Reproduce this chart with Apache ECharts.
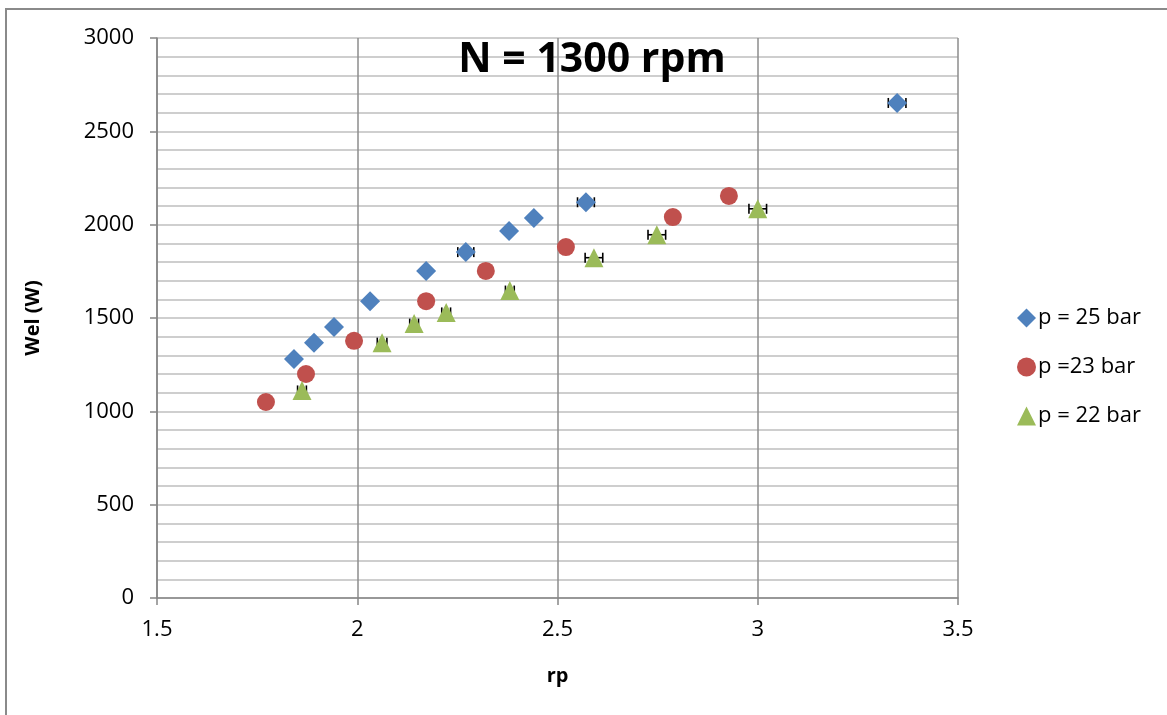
<!DOCTYPE html>
<html>
<head>
<meta charset="utf-8">
<script src="https://cdn.jsdelivr.net/npm/echarts@6/dist/echarts.min.js"></script>
<style>
  html, body { margin: 0; padding: 0; background: #ffffff; }
  #chart { width: 1167px; height: 715px; }
</style>
</head>
<body>
<div id="chart"></div>
<script>
// Electrical power vs pressure ratio at N = 1300 rpm
const seriesNames = ['p = 25 bar', 'p =23 bar', 'p = 22 bar'];

// p = 25 bar
const rp25  = [1.842, 1.892, 1.942, 2.032, 2.172, 2.271, 2.379, 2.441, 2.571, 3.348];
const wel25 = [1280, 1368, 1452, 1590, 1752, 1853, 1966, 2036, 2120, 2652];
const err25 = [0, 0, 0, 0, 0, 0.02, 0, 0, 0.021, 0.022];

// p = 23 bar
const rp23  = [1.772, 1.872, 1.992, 2.172, 2.321, 2.521, 2.788, 2.928];
const wel23 = [1050, 1200, 1378, 1590, 1752, 1880, 2041, 2154];
const err23 = [0, 0, 0, 0, 0, 0, 0, 0];

// p = 22 bar
const rp22  = [1.862, 2.062, 2.142, 2.222, 2.381, 2.591, 2.748, 3.0];
const wel22 = [1112, 1368, 1470, 1530, 1647, 1823, 1946, 2085];
const err22 = [0.011, 0.012, 0.011, 0.011, 0.011, 0.022, 0.022, 0.022];

const xTicks = { min: 1.5, max: 3.5, interval: 0.5 };
const yTicks = { min: 0, max: 3000, interval: 500 };

const colors = ['#4F81BD', '#C0504D', '#9BBB59'];
const symbols = ['diamond', 'circle', 'triangle'];
const symbolSizes = [20, 18, 19];

const groups = [
  { x: rp25, y: wel25, e: err25 },
  { x: rp23, y: wel23, e: err23 },
  { x: rp22, y: wel22, e: err22 }
];

const font = '"Open Sans", "Noto Sans", sans-serif';

function errorBarItem(params, api) {
  const x = api.value(0), y = api.value(1), e = api.value(2);
  const left = api.coord([x - e, y]);
  const right = api.coord([x + e, y]);
  const cap = 5;
  const style = { stroke: '#000000', lineWidth: 1.6 };
  return {
    type: 'group',
    children: [
      { type: 'line', shape: { x1: left[0], y1: left[1], x2: right[0], y2: right[1] }, style: style },
      { type: 'line', shape: { x1: left[0], y1: left[1] - cap, x2: left[0], y2: left[1] + cap }, style: style },
      { type: 'line', shape: { x1: right[0], y1: right[1] - cap, x2: right[0], y2: right[1] + cap }, style: style }
    ]
  };
}

const series = [];
groups.forEach(function (g, i) {
  const bars = [];
  g.x.forEach(function (xv, k) {
    if (g.e[k] > 0) bars.push([xv, g.y[k], g.e[k]]);
  });
  series.push({
    type: 'custom',
    name: seriesNames[i] + ' error',
    renderItem: errorBarItem,
    data: bars,
    z: 2,
    silent: true
  });
});
groups.forEach(function (g, i) {
  series.push({
    type: 'scatter',
    name: seriesNames[i],
    symbol: symbols[i],
    symbolSize: symbolSizes[i],
    itemStyle: { color: colors[i], opacity: 1 },
    data: g.x.map(function (xv, k) { return [xv, g.y[k]]; }),
    z: 3
  });
});

const chart = echarts.init(document.getElementById('chart'), null, { renderer: 'canvas' });
chart.setOption({
  animation: false,
  backgroundColor: '#ffffff',
  color: colors,
  title: {
    text: 'N = 1300 rpm',
    left: 587,
    textAlign: 'center',
    top: 35,
    textStyle: { fontFamily: font, fontWeight: 'bold', fontSize: 41, color: '#000000' }
  },
  graphic: [{
    type: 'rect',
    shape: { x: 6, y: 9, width: 1300, height: 900 },
    style: { fill: 'none', stroke: '#8a8a8a', lineWidth: 2 },
    z: -10,
    silent: true
  }],
  legend: {
    orient: 'vertical',
    left: 1012,
    top: 302,
    itemWidth: 19,
    itemHeight: 19,
    itemGap: 27,
    data: seriesNames.map(function (n, i) { return { name: n, icon: symbols[i] }; }),
    textStyle: { fontFamily: font, fontSize: 22, color: '#000000', padding: [0, 0, 0, -3] }
  },
  grid: { left: 157, right: 209, top: 38, bottom: 117, containLabel: false },
  xAxis: {
    type: 'value',
    min: xTicks.min, max: xTicks.max, interval: xTicks.interval,
    name: 'rp',
    nameLocation: 'middle',
    nameGap: 68,
    nameTextStyle: { fontFamily: font, fontWeight: 'bold', fontSize: 20, color: '#000000' },
    axisLine: { show: true, lineStyle: { color: '#868686', width: 1.5 } },
    axisTick: { show: true, length: 7, lineStyle: { color: '#868686', width: 1.5 } },
    axisLabel: { fontFamily: font, fontSize: 22, color: '#000000', margin: 21 },
    splitLine: { show: true, lineStyle: { color: '#8c8c8c', width: 1.5 } }
  },
  yAxis: {
    type: 'value',
    min: yTicks.min, max: yTicks.max, interval: yTicks.interval,
    name: 'Wel (W)',
    nameLocation: 'middle',
    nameGap: 114,
    nameRotate: 90,
    nameTextStyle: { fontFamily: font, fontWeight: 'bold', fontSize: 20, color: '#000000' },
    axisLine: { show: true, lineStyle: { color: '#868686', width: 1.5 } },
    axisTick: { show: true, length: 7, lineStyle: { color: '#868686', width: 1.5 } },
    axisLabel: {
      fontFamily: font, fontSize: 22, color: '#000000', margin: 23,
      formatter: function (v) { return String(v); }
    },
    splitLine: { show: true, lineStyle: { color: '#bfbfbf', width: 1.5 } },
    minorTick: { show: false, splitNumber: 5 },
    minorSplitLine: { show: true, lineStyle: { color: '#bfbfbf', width: 1.5 } }
  },
  series: series
});
</script>
</body>
</html>
